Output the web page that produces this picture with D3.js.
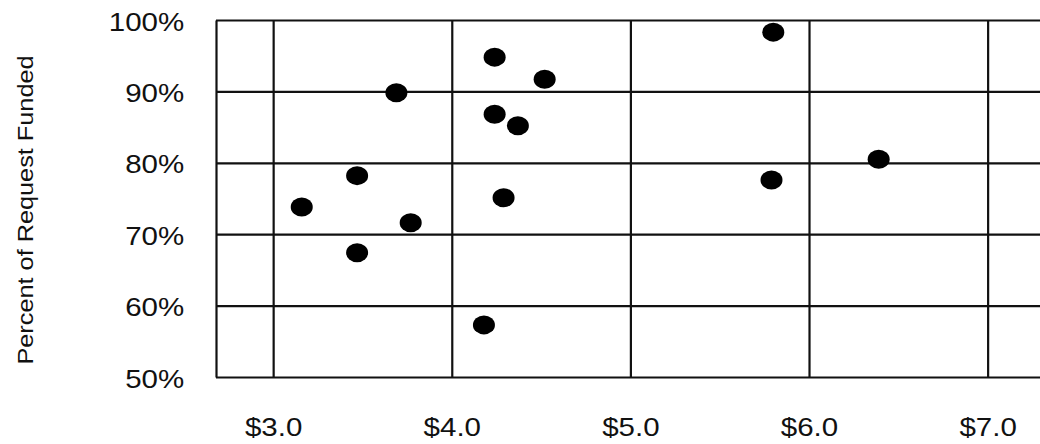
<!DOCTYPE html>
<html>
<head>
<meta charset="utf-8">
<script src="https://cdn.jsdelivr.net/npm/d3@7"></script>
<style>
  body { margin: 0; background: #fff; }
  text { font-family: "Liberation Sans", Arial, sans-serif; fill: #111; }
</style>
</head>
<body>
<div id="chart"></div>
<script>
// values
var costs   = [3.16, 3.47, 3.47, 3.69, 3.77, 4.24, 4.52, 4.24, 4.37, 4.29, 4.18, 5.80, 5.79, 6.39];
var funded  = [73.8, 78.2, 67.4, 89.8, 71.6, 94.8, 91.7, 86.8, 85.2, 75.1, 57.3, 98.3, 77.6, 80.5];

var xTicks = [3, 4, 5, 6, 7];
var xTickLabels = ["$3.0", "$4.0", "$5.0", "$6.0", "$7.0"];
var yTicks = [50, 60, 70, 80, 90, 100];
var yTickLabels = ["50%", "60%", "70%", "80%", "90%", "100%"];
var xExtent = [2.68, 7.31];
var yExtent = [50, 100];
var yTitle = "Percent of Request Funded";

var W = 1040, H = 444;
var plotLeft = 216, plotRight = 1043, plotTop = 20, plotBottom = 377;

var svg = d3.select("#chart").append("svg")
    .attr("width", W)
    .attr("height", H);

var x = d3.scaleLinear().domain(xExtent).range([plotLeft, plotRight]);
var y = d3.scaleLinear().domain(yExtent).range([plotBottom, plotTop]);

// horizontal grid + left frame
var yAxis = svg.append("g")
    .attr("transform", "translate(" + plotLeft + ",0)")
    .call(d3.axisLeft(y)
      .tickValues(yTicks)
      .tickFormat(function(d, i) { return yTickLabels[i]; })
      .tickSizeInner(-(plotRight - plotLeft))
      .tickSizeOuter(0)
      .tickPadding(27));

// vertical grid
var xAxis = svg.append("g")
    .attr("transform", "translate(0," + plotBottom + ")")
    .call(d3.axisBottom(x)
      .tickValues(xTicks)
      .tickFormat(function(d, i) { return xTickLabels[i]; })
      .tickSizeInner(-(plotBottom - plotTop))
      .tickSizeOuter(0)
      .tickPadding(41));

xAxis.select(".domain").remove();

svg.selectAll(".domain, .tick line")
    .attr("stroke", "#111")
    .attr("stroke-width", 2.2);

svg.selectAll(".tick text")
    .style("font-size", "25px")
    .attr("fill", "#111")
    .attr("transform", "scale(1.18,1)");

yAxis.selectAll(".tick text").attr("dy", "0.4em");

// dots
svg.append("g").selectAll("ellipse")
    .data(costs)
    .enter().append("ellipse")
      .attr("cx", function(d) { return x(d); })
      .attr("cy", function(d, i) { return y(funded[i]); })
      .attr("rx", 11)
      .attr("ry", 9.5)
      .attr("fill", "#000");

// y title
svg.append("text")
    .attr("transform", "translate(33,210) rotate(-90) scale(1.15,1)")
    .attr("text-anchor", "middle")
    .style("font-size", "22px")
    .text(yTitle);
</script>
</body>
</html>
